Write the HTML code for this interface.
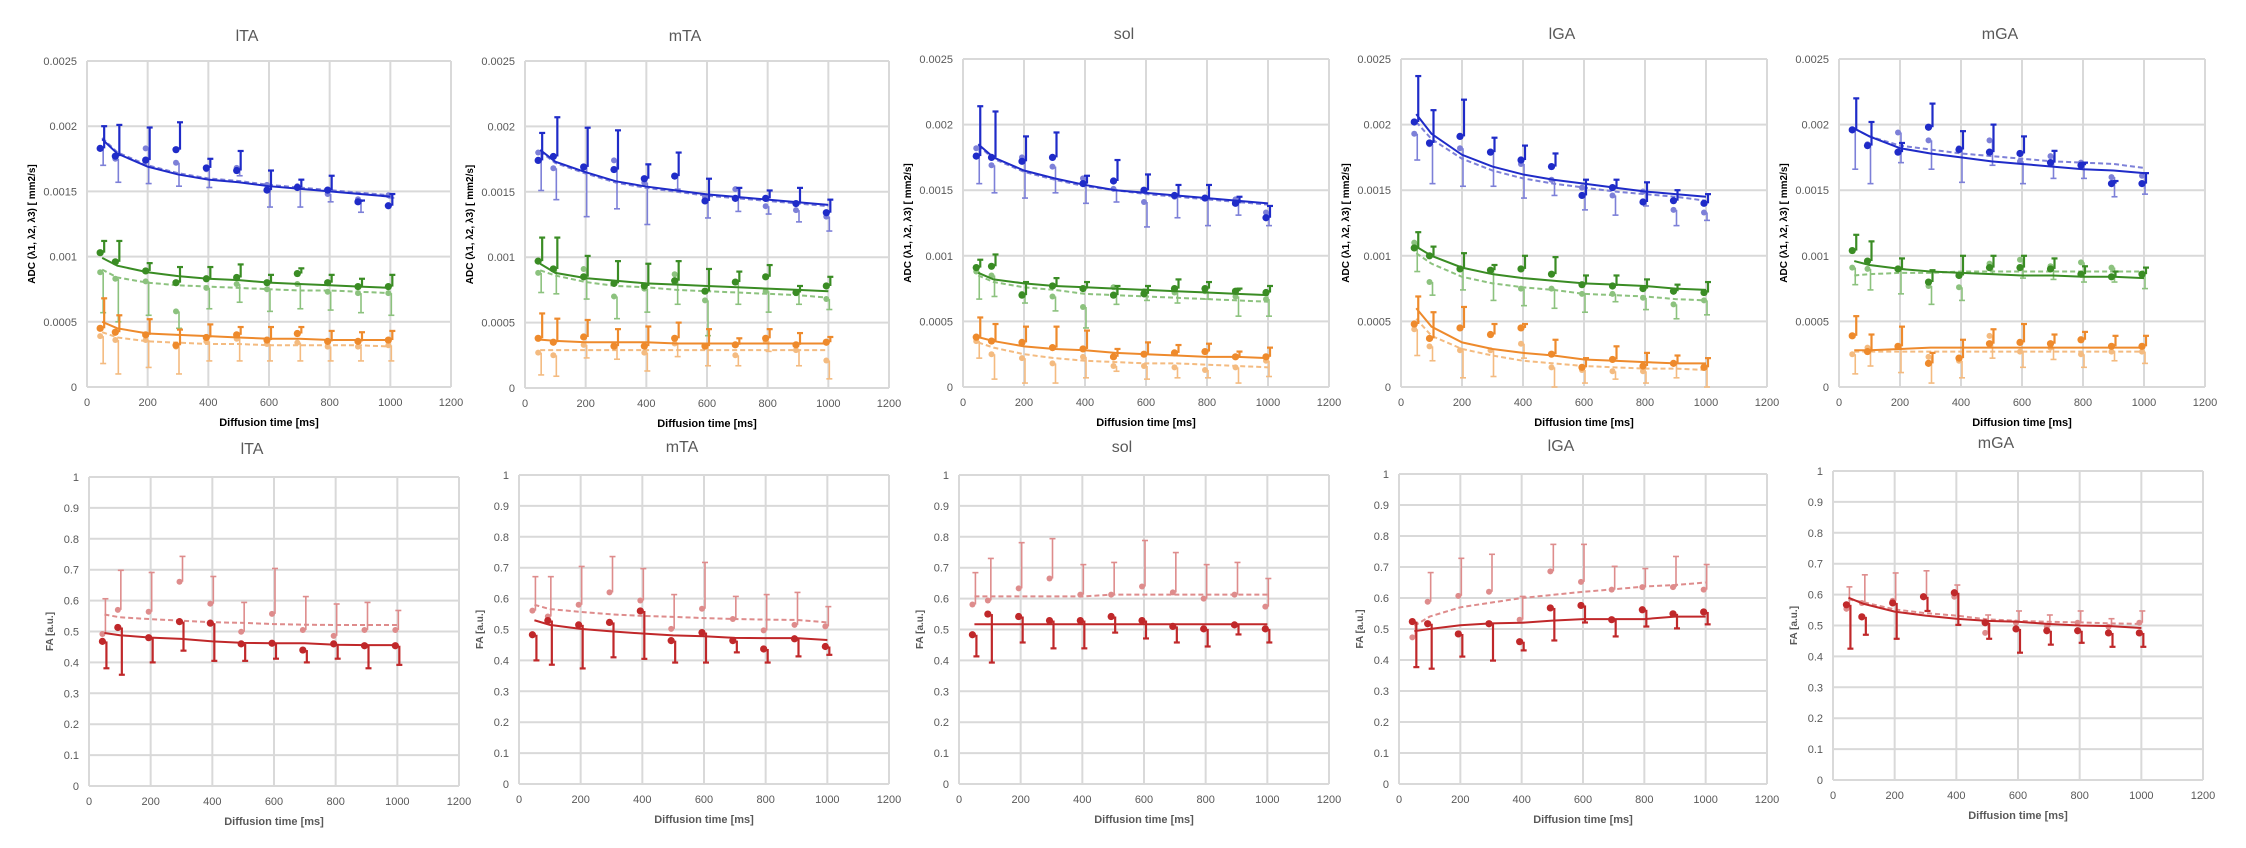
<!DOCTYPE html>
<html><head><meta charset="utf-8">
<style>
html,body{margin:0;padding:0;background:#fff;}
svg{display:block;font-family:"Liberation Sans",sans-serif;}
</style></head>
<body>
<svg id="fig" width="2246" height="848" viewBox="0 0 2246 848" xmlns="http://www.w3.org/2000/svg"></svg>
<script>
const X = [50,100,200,300,400,500,600,700,800,900,1000];
const xTicks = [0,200,400,600,800,1000,1200];
const adcTickLabels = ["0","0.0005","0.001","0.0015","0.002","0.0025"];
const faTickLabels = ["0","0.1","0.2","0.3","0.4","0.5","0.6","0.7","0.8","0.9","1"];
const muscles = ["lTA","mTA","sol","lGA","mGA"];

// ---- ADC lTA ----
const lTA_b_mean=[0.00183,0.00177,0.00174,0.00182,0.00168,0.00166,0.00151,0.00153,0.00151,0.00142,0.00139];
const lTA_b_up=[0.0020,0.00201,0.00199,0.00203,0.00175,0.00181,0.00166,0.00159,0.00162,0.00143,0.00148];
const lTA_b_fit=[0.0019,0.00179,0.00169,0.00163,0.00159,0.00157,0.00154,0.00152,0.0015,0.00148,0.00146];
const lTA_bl_mean=[0.00183,0.00175,0.00183,0.00172,0.00167,0.00168,0.00155,0.00154,0.00148,0.00144,0.00147];
const lTA_bl_lo=[0.0017,0.00157,0.00156,0.00154,0.00153,0.00162,0.00138,0.00138,0.00142,0.00134,0.00145];
const lTA_bl_fit=[0.00191,0.0018,0.0017,0.00164,0.0016,0.00158,0.00155,0.00153,0.00151,0.00149,0.00147];
const lTA_g_mean=[0.00103,0.00096,0.00089,0.0008,0.00083,0.00084,0.0008,0.00087,0.0008,0.00077,0.00077];
const lTA_g_up=[0.00112,0.00112,0.00095,0.00092,0.00092,0.00094,0.00086,0.00091,0.00086,0.00083,0.00086];
const lTA_g_fit=[0.00099,0.00093,0.00088,0.00085,0.00083,0.00082,0.0008,0.00079,0.00078,0.00077,0.00076];
const lTA_gl_mean=[0.00088,0.00083,0.00081,0.00058,0.00076,0.00079,0.00075,0.00079,0.00073,0.00072,0.00072];
const lTA_gl_lo=[0.00057,0.0005,0.00055,0.00045,0.0006,0.00065,0.00058,0.0006,0.00059,0.00057,0.00055];
const lTA_gl_fit=[0.0009,0.00084,0.0008,0.00078,0.00077,0.00076,0.00075,0.00074,0.00074,0.00073,0.00072];
const lTA_o_mean=[0.00045,0.00042,0.0004,0.00032,0.00038,0.0004,0.00036,0.00041,0.00035,0.00035,0.00036];
const lTA_o_up=[0.00068,0.00055,0.00052,0.00044,0.00048,0.00046,0.00046,0.00046,0.00043,0.00042,0.00043];
const lTA_o_fit=[0.0005,0.00045,0.00041,0.0004,0.00039,0.00038,0.00037,0.00037,0.00036,0.00036,0.00036];
const lTA_ol_mean=[0.00039,0.00036,0.00036,0.00031,0.00035,0.00037,0.00033,0.00034,0.00031,0.00031,0.00032];
const lTA_ol_lo=[0.00018,0.0001,0.00015,0.0001,0.0002,0.0002,0.0002,0.0002,0.0002,0.0002,0.0002];
const lTA_ol_fit=[0.00042,0.00038,0.00035,0.00034,0.00033,0.00033,0.00032,0.00032,0.00032,0.00032,0.00031];
// ---- ADC mTA ----
const mTA_b_mean=[0.00174,0.00177,0.00169,0.00167,0.0016,0.00162,0.00143,0.00145,0.00145,0.00141,0.00134];
const mTA_b_up=[0.00195,0.00207,0.00199,0.00197,0.00171,0.0018,0.0016,0.00153,0.00151,0.00153,0.00144];
const mTA_b_fit=[0.00182,0.00173,0.00165,0.00158,0.00154,0.00151,0.00148,0.00146,0.00144,0.00142,0.0014];
const mTA_bl_mean=[0.0018,0.00168,0.00169,0.00174,0.00157,0.00162,0.00146,0.00152,0.00139,0.00136,0.00131];
const mTA_bl_lo=[0.00151,0.00144,0.00131,0.00137,0.00125,0.00152,0.0013,0.00135,0.00133,0.00127,0.0012];
const mTA_bl_fit=[0.00181,0.00172,0.00164,0.00157,0.00153,0.0015,0.00147,0.00145,0.00143,0.00141,0.00139];
const mTA_g_mean=[0.00097,0.00091,0.00085,0.0008,0.00078,0.00082,0.00074,0.00081,0.00085,0.00073,0.00078];
const mTA_g_up=[0.00115,0.00115,0.00101,0.00097,0.00095,0.00097,0.00091,0.00089,0.00094,0.00078,0.00085];
const mTA_g_fit=[0.00095,0.00088,0.00084,0.00082,0.0008,0.00079,0.00078,0.00077,0.00076,0.00075,0.00074];
const mTA_gl_mean=[0.00088,0.00091,0.00091,0.0007,0.00076,0.00087,0.00067,0.00081,0.00074,0.00073,0.00068];
const mTA_gl_lo=[0.00073,0.00072,0.00068,0.00053,0.00058,0.00064,0.0004,0.00064,0.00058,0.00064,0.0006];
const mTA_gl_fit=[0.0009,0.00086,0.00081,0.00078,0.00077,0.00075,0.00074,0.00073,0.00072,0.00071,0.00069];
const mTA_o_mean=[0.00038,0.00035,0.00039,0.00032,0.00032,0.00038,0.00032,0.00033,0.00038,0.00033,0.00035];
const mTA_o_up=[0.00057,0.00053,0.00052,0.00045,0.00047,0.0005,0.00045,0.00038,0.00045,0.00042,0.00039];
const mTA_o_fit=[0.00037,0.00036,0.00035,0.00035,0.00035,0.00034,0.00034,0.00034,0.00034,0.00034,0.00034];
const mTA_ol_mean=[0.00027,0.00025,0.00033,0.00033,0.00027,0.00034,0.00032,0.00025,0.00036,0.00029,0.00021];
const mTA_ol_lo=[0.0001,0.00009,0.00023,0.00022,0.00013,0.00024,0.00017,0.00017,0.00028,0.00017,0.00007];
const mTA_ol_fit=[0.00029,0.00029,0.00029,0.00029,0.00029,0.00029,0.00029,0.00029,0.00029,0.00029,0.00029];
// ---- ADC sol ----
const sol_b_mean=[0.00176,0.00175,0.00172,0.00175,0.00155,0.00157,0.0015,0.00146,0.00144,0.0014,0.00129];
const sol_b_up=[0.00214,0.0021,0.00191,0.00194,0.00161,0.00173,0.00162,0.00154,0.00154,0.00145,0.00138];
const sol_b_fit=[0.00185,0.00175,0.00165,0.00159,0.00154,0.0015,0.00148,0.00146,0.00144,0.00142,0.0014];
const sol_bl_mean=[0.00182,0.00169,0.00175,0.00168,0.00159,0.00151,0.00141,0.00145,0.00144,0.00143,0.00133];
const sol_bl_lo=[0.00155,0.00148,0.00144,0.00148,0.0014,0.00141,0.00122,0.00129,0.00123,0.00131,0.00123];
const sol_bl_fit=[0.00184,0.00174,0.00164,0.00158,0.00153,0.0015,0.00147,0.00145,0.00143,0.00141,0.00139];
const sol_g_mean=[0.00091,0.00092,0.0007,0.00077,0.00075,0.0007,0.00071,0.00075,0.00075,0.00073,0.00072];
const sol_g_up=[0.00097,0.00101,0.0008,0.00083,0.0008,0.00077,0.00077,0.00082,0.0008,0.00075,0.00077];
const sol_g_fit=[0.00087,0.00082,0.00079,0.00077,0.00076,0.00075,0.00074,0.00073,0.00072,0.00071,0.0007];
const sol_gl_mean=[0.00088,0.00085,0.00071,0.00069,0.00061,0.00076,0.00073,0.00072,0.00073,0.00069,0.00067];
const sol_gl_lo=[0.00067,0.00069,0.00064,0.00058,0.00045,0.00063,0.00066,0.00064,0.00067,0.00054,0.00054];
const sol_gl_fit=[0.00085,0.0008,0.00076,0.00074,0.00071,0.0007,0.00069,0.00068,0.00067,0.00066,0.00065];
const sol_o_mean=[0.00038,0.00035,0.00034,0.0003,0.00029,0.00023,0.00025,0.00026,0.00027,0.00023,0.00023];
const sol_o_up=[0.00053,0.00048,0.00046,0.00046,0.00043,0.00029,0.00034,0.00032,0.00033,0.00027,0.0003];
const sol_o_fit=[0.00038,0.00035,0.00031,0.00029,0.00028,0.00026,0.00025,0.00024,0.00023,0.00023,0.00022];
const sol_ol_mean=[0.00035,0.00025,0.00022,0.00018,0.00023,0.00016,0.00016,0.00015,0.00013,0.00015,0.0002];
const sol_ol_lo=[0.00022,0.00006,0.00003,0.00003,0.00007,0.00012,0.00006,0.00007,0.00007,0.00003,0.00008];
const sol_ol_fit=[0.00034,0.0003,0.00025,0.00022,0.0002,0.00019,0.00018,0.00018,0.00017,0.00016,0.00015];
// ---- ADC lGA ----
const lGA_b_mean=[0.00202,0.00186,0.00191,0.00179,0.00173,0.00168,0.00146,0.00152,0.00141,0.00142,0.0014];
const lGA_b_up=[0.00237,0.00211,0.00219,0.0019,0.00184,0.00178,0.00158,0.00158,0.00156,0.0015,0.00147];
const lGA_b_fit=[0.00208,0.00193,0.00177,0.00168,0.00162,0.00158,0.00155,0.00152,0.00149,0.00147,0.00145];
const lGA_bl_mean=[0.00193,0.00185,0.00182,0.00179,0.0017,0.00158,0.00152,0.00146,0.00149,0.00135,0.00133];
const lGA_bl_lo=[0.00173,0.00155,0.00153,0.00153,0.00144,0.00146,0.00135,0.00131,0.00138,0.00123,0.00127];
const lGA_bl_fit=[0.00202,0.00189,0.00174,0.00165,0.00159,0.00155,0.00152,0.00149,0.00147,0.00145,0.00142];
const lGA_g_mean=[0.00106,0.001,0.0009,0.00089,0.0009,0.00086,0.00078,0.00077,0.00075,0.00073,0.00072];
const lGA_g_up=[0.00118,0.00107,0.00102,0.00093,0.001,0.00099,0.00085,0.00085,0.00082,0.00078,0.0008];
const lGA_g_fit=[0.00107,0.001,0.00091,0.00086,0.00083,0.00081,0.00079,0.00078,0.00077,0.00075,0.00074];
const lGA_gl_mean=[0.0011,0.0008,0.0009,0.00089,0.00075,0.00075,0.00071,0.00071,0.00068,0.00063,0.00066];
const lGA_gl_lo=[0.00088,0.0007,0.00074,0.00066,0.00062,0.0006,0.00057,0.00065,0.00059,0.00052,0.00055];
const lGA_gl_fit=[0.00102,0.00094,0.00084,0.00079,0.00076,0.00074,0.00071,0.0007,0.00069,0.00067,0.00066];
const lGA_o_mean=[0.00048,0.00037,0.00045,0.0004,0.00045,0.00025,0.00015,0.00021,0.00016,0.00018,0.00015];
const lGA_o_up=[0.00069,0.00057,0.00061,0.00048,0.00048,0.00036,0.00022,0.00031,0.00026,0.00024,0.00022];
const lGA_o_fit=[0.0006,0.00046,0.00034,0.00029,0.00026,0.00024,0.00021,0.0002,0.00019,0.00018,0.00018];
const lGA_ol_mean=[0.00044,0.00031,0.00028,0.00028,0.00033,0.00015,0.00013,0.00012,0.00012,0.00018,0.00015];
const lGA_ol_lo=[0.00024,0.0002,0.00007,0.00008,0.00022,0.0,0.00003,0.00006,0.00003,0.00007,0.0];
const lGA_ol_fit=[0.00052,0.00039,0.00029,0.00024,0.0002,0.00018,0.00016,0.00015,0.00014,0.00014,0.00013];
// ---- ADC mGA ----
const mGA_b_mean=[0.00196,0.00184,0.00179,0.00198,0.00181,0.00179,0.00178,0.00171,0.00169,0.00155,0.00155];
const mGA_b_up=[0.0022,0.00202,0.00186,0.00216,0.00195,0.002,0.00191,0.0018,0.00171,0.00157,0.00163];
const mGA_b_fit=[0.00197,0.00191,0.00182,0.00178,0.00175,0.00172,0.0017,0.00168,0.00166,0.00165,0.00163];
const mGA_bl_mean=[0.00196,0.00185,0.00194,0.00188,0.00182,0.00188,0.00172,0.00176,0.00171,0.0016,0.00161];
const mGA_bl_lo=[0.00166,0.00155,0.00171,0.00166,0.00156,0.00169,0.00155,0.00159,0.00159,0.00145,0.00147];
const mGA_bl_fit=[0.00197,0.00191,0.00184,0.00181,0.00178,0.00176,0.00174,0.00172,0.00171,0.0017,0.00167];
const mGA_g_mean=[0.00104,0.00096,0.0009,0.0008,0.00085,0.00091,0.00091,0.0009,0.00086,0.00084,0.00086];
const mGA_g_up=[0.00116,0.00111,0.00098,0.00089,0.001,0.001,0.001,0.00098,0.00092,0.00088,0.00091];
const mGA_g_fit=[0.00096,0.00093,0.0009,0.00088,0.00087,0.00086,0.00085,0.00085,0.00084,0.00084,0.00083];
const mGA_gl_mean=[0.00091,0.0009,0.0009,0.00077,0.00076,0.00094,0.00097,0.00092,0.00095,0.00091,0.00086];
const mGA_gl_lo=[0.00078,0.00074,0.00071,0.00063,0.00066,0.00086,0.00083,0.00082,0.0008,0.0008,0.00075];
const mGA_gl_fit=[0.00085,0.00086,0.00087,0.00087,0.00088,0.00088,0.00088,0.00088,0.00088,0.00088,0.00088];
const mGA_o_mean=[0.00039,0.00027,0.00031,0.00018,0.00022,0.00033,0.00034,0.00033,0.00036,0.00031,0.00031];
const mGA_o_up=[0.00054,0.0004,0.00046,0.00026,0.00036,0.00044,0.00048,0.0004,0.00042,0.00039,0.00039];
const mGA_o_fit=[0.00028,0.00028,0.00029,0.0003,0.0003,0.0003,0.0003,0.0003,0.0003,0.0003,0.0003];
const mGA_ol_mean=[0.00025,0.0003,0.00031,0.00023,0.0002,0.00039,0.00027,0.0003,0.00025,0.00027,0.00027];
const mGA_ol_lo=[0.0001,0.00016,0.00011,0.00003,0.00007,0.00022,0.00015,0.00021,0.00015,0.0002,0.00018];
const mGA_ol_fit=[0.00027,0.00027,0.00027,0.00027,0.00027,0.00027,0.00027,0.00027,0.00027,0.00027,0.00027];
// ---- FA ----
const faLTA_mean=[0.468,0.513,0.48,0.532,0.527,0.46,0.462,0.44,0.46,0.454,0.454];
const faLTA_lo=[0.381,0.36,0.4,0.438,0.405,0.405,0.412,0.4,0.412,0.381,0.392];
const faLTA_fit=[0.495,0.488,0.48,0.476,0.468,0.463,0.462,0.462,0.457,0.456,0.456];
const faLTA2_mean=[0.492,0.57,0.564,0.661,0.59,0.499,0.557,0.505,0.486,0.505,0.505];
const faLTA2_up=[0.606,0.698,0.691,0.743,0.678,0.594,0.704,0.613,0.589,0.594,0.568];
const faLTA2_fit=[0.555,0.546,0.54,0.535,0.53,0.528,0.524,0.522,0.521,0.521,0.521];
const faMTA_mean=[0.483,0.529,0.515,0.523,0.56,0.464,0.49,0.464,0.437,0.47,0.445];
const faMTA_lo=[0.4,0.386,0.374,0.41,0.405,0.393,0.393,0.426,0.393,0.413,0.418];
const faMTA_fit=[0.53,0.515,0.502,0.494,0.487,0.481,0.478,0.473,0.472,0.472,0.466];
const faMTA2_mean=[0.561,0.542,0.58,0.62,0.594,0.502,0.567,0.534,0.497,0.515,0.51];
const faMTA2_up=[0.671,0.671,0.704,0.736,0.697,0.613,0.717,0.607,0.613,0.62,0.574];
const faMTA2_fit=[0.58,0.566,0.557,0.549,0.544,0.541,0.537,0.534,0.532,0.531,0.523];
const faSOL_mean=[0.483,0.55,0.542,0.529,0.529,0.542,0.529,0.51,0.502,0.515,0.502];
const faSOL_lo=[0.413,0.393,0.458,0.439,0.439,0.49,0.471,0.458,0.445,0.484,0.458];
const faSOL_fit=[0.517,0.517,0.517,0.517,0.517,0.517,0.517,0.517,0.517,0.517,0.517];
const faSOL2_mean=[0.581,0.594,0.633,0.665,0.613,0.613,0.639,0.62,0.6,0.613,0.574];
const faSOL2_up=[0.684,0.73,0.781,0.794,0.71,0.717,0.788,0.749,0.71,0.717,0.665];
const faSOL2_fit=[0.607,0.607,0.607,0.607,0.607,0.613,0.613,0.613,0.613,0.613,0.613];
const faLGA_mean=[0.524,0.517,0.484,0.517,0.459,0.568,0.576,0.53,0.562,0.549,0.555];
const faLGA_lo=[0.377,0.372,0.411,0.398,0.431,0.463,0.521,0.476,0.508,0.502,0.515];
const faLGA_fit=[0.493,0.5,0.512,0.518,0.52,0.527,0.532,0.532,0.532,0.54,0.54];
const faLGA2_mean=[0.473,0.588,0.607,0.62,0.53,0.686,0.652,0.627,0.635,0.635,0.627];
const faLGA2_up=[0.519,0.682,0.728,0.741,0.605,0.773,0.773,0.702,0.695,0.734,0.708];
const faLGA2_fit=[0.51,0.54,0.57,0.585,0.6,0.61,0.62,0.628,0.637,0.642,0.65];
const faMGA_mean=[0.567,0.528,0.573,0.593,0.606,0.509,0.489,0.483,0.483,0.476,0.476];
const faMGA_lo=[0.425,0.47,0.457,0.547,0.502,0.457,0.412,0.438,0.444,0.431,0.431];
const faMGA_fit=[0.59,0.57,0.545,0.532,0.522,0.515,0.512,0.505,0.5,0.498,0.492];
const faMGA2_mean=[0.554,0.573,0.58,0.593,0.593,0.476,0.509,0.496,0.509,0.496,0.509];
const faMGA2_up=[0.625,0.664,0.67,0.677,0.631,0.534,0.547,0.534,0.547,0.522,0.547];
const faMGA2_fit=[0.585,0.575,0.552,0.54,0.532,0.52,0.515,0.512,0.51,0.507,0.505];

const NS="http://www.w3.org/2000/svg";
const svg=document.getElementById('fig');
function mk(tag,attrs,parent){const e=document.createElementNS(NS,tag);for(const k in attrs)e.setAttribute(k,attrs[k]);(parent||svg).appendChild(e);return e;}

const C={b:"#1f2bc8",bl:"#7d80d8",g:"#3a8c24",gl:"#8cc27e",o:"#ee8a2c",ol:"#f4bb80",r:"#c0282a",rl:"#de8c8c"};

function panel(name,geom,yMax,nTicks,tickLabels,yTitle,titleBold,seriesList,idx,row){
  const [L,R,T,B]=geom;
  const g=mk('g',{});
  
  
  const sx=v=>L+(v/1200)*(R-L);
  const sy=v=>B-(v/yMax)*(B-T);
  for(let i=0;i<nTicks;i++){
    const v=yMax*i/(nTicks-1);const y=sy(v);
    const ln=mk('line',{x1:L,x2:R,y1:y,y2:y,stroke:"#d9d9d9","stroke-width":2},g);
    
    
    const t=mk('text',{x:L-10,y:y+4,"text-anchor":"end","font-size":11,fill:"#595959"},g);
    t.textContent=tickLabels[i];
    
    
  }
  xTicks.forEach(v=>{
    const x=sx(v);
    const ln=mk('line',{x1:x,x2:x,y1:T,y2:B,stroke:"#d9d9d9","stroke-width":2},g);
    
    
    const t=mk('text',{x:x,y:B+19,"text-anchor":"middle","font-size":11,fill:"#595959"},g);
    t.textContent=String(v);
    
    
  });
  const tt=mk('text',{x:(L+R)/2-22,y:T-(row==='adc'?20:23),"text-anchor":"middle","font-size":16,fill:"#595959"},g);
  tt.textContent=name;
  
  
  const xt=mk('text',{x:(L+R)/2,y:B+39,"text-anchor":"middle","font-size":11,"font-weight":"bold",fill:titleBold},g);
  xt.textContent="Diffusion time [ms]";
  
  
  const yx=row==='adc'?L-52:L-36;
  const yt=mk('text',{x:yx,y:(T+B)/2,"text-anchor":"middle","font-size":10,"font-weight":"bold",fill:titleBold,transform:`rotate(-90 ${yx} ${(T+B)/2})`},g);
  yt.textContent=yTitle;
  
  
  seriesList.forEach(s=>{
    const pts=s.fit.map((v,i)=>`${sx(X[i])},${sy(v)}`).join(' ');
    const fl=mk('polyline',{points:pts,fill:"none",stroke:s.color,"stroke-width":2,"stroke-dasharray":s.light?"5,3":"none"},g);
    
    
    s.mean.forEach((v,i)=>{
      const x=sx(X[i]);const ex=x+(s.light?1:2);
      const e=s.err[i];
      const el=mk('line',{x1:ex,x2:ex,y1:sy(v),y2:sy(e),stroke:s.color,"stroke-width":s.light?1.6:2.2},g);
      
      
      const cap=mk('line',{x1:ex-3,x2:ex+3,y1:sy(e),y2:sy(e),stroke:s.color,"stroke-width":s.light?1.6:2.2},g);
      
      
      const c=mk('circle',{cx:x-2,cy:sy(v),r:s.light?3:3.6,fill:s.color},g);
      
      
    });
  });
}

const topGeom=[[87,451,61,387],[525,889,61,388],[963,1329,59,387],[1401,1767,59,387],[1839,2205,59,387]];
const botGeom=[[89,459,477,786],[519,889,475,784],[959,1329,475,784],[1399,1767,474,784],[1833,2203,471,780]];
const adcSets={
 lTA:[[lTA_bl_mean,lTA_bl_lo,lTA_bl_fit],[lTA_b_mean,lTA_b_up,lTA_b_fit],[lTA_gl_mean,lTA_gl_lo,lTA_gl_fit],[lTA_g_mean,lTA_g_up,lTA_g_fit],[lTA_ol_mean,lTA_ol_lo,lTA_ol_fit],[lTA_o_mean,lTA_o_up,lTA_o_fit]],
 mTA:[[mTA_bl_mean,mTA_bl_lo,mTA_bl_fit],[mTA_b_mean,mTA_b_up,mTA_b_fit],[mTA_gl_mean,mTA_gl_lo,mTA_gl_fit],[mTA_g_mean,mTA_g_up,mTA_g_fit],[mTA_ol_mean,mTA_ol_lo,mTA_ol_fit],[mTA_o_mean,mTA_o_up,mTA_o_fit]],
 sol:[[sol_bl_mean,sol_bl_lo,sol_bl_fit],[sol_b_mean,sol_b_up,sol_b_fit],[sol_gl_mean,sol_gl_lo,sol_gl_fit],[sol_g_mean,sol_g_up,sol_g_fit],[sol_ol_mean,sol_ol_lo,sol_ol_fit],[sol_o_mean,sol_o_up,sol_o_fit]],
 lGA:[[lGA_bl_mean,lGA_bl_lo,lGA_bl_fit],[lGA_b_mean,lGA_b_up,lGA_b_fit],[lGA_gl_mean,lGA_gl_lo,lGA_gl_fit],[lGA_g_mean,lGA_g_up,lGA_g_fit],[lGA_ol_mean,lGA_ol_lo,lGA_ol_fit],[lGA_o_mean,lGA_o_up,lGA_o_fit]],
 mGA:[[mGA_bl_mean,mGA_bl_lo,mGA_bl_fit],[mGA_b_mean,mGA_b_up,mGA_b_fit],[mGA_gl_mean,mGA_gl_lo,mGA_gl_fit],[mGA_g_mean,mGA_g_up,mGA_g_fit],[mGA_ol_mean,mGA_ol_lo,mGA_ol_fit],[mGA_o_mean,mGA_o_up,mGA_o_fit]]
};
const adcMeta=[["lambda1-light","bl",true],["lambda1","b",false],["lambda2-light","gl",true],["lambda2","g",false],["lambda3-light","ol",true],["lambda3","o",false]];
const faSets={
 lTA:[[faLTA2_mean,faLTA2_up,faLTA2_fit],[faLTA_mean,faLTA_lo,faLTA_fit]],
 mTA:[[faMTA2_mean,faMTA2_up,faMTA2_fit],[faMTA_mean,faMTA_lo,faMTA_fit]],
 sol:[[faSOL2_mean,faSOL2_up,faSOL2_fit],[faSOL_mean,faSOL_lo,faSOL_fit]],
 lGA:[[faLGA2_mean,faLGA2_up,faLGA2_fit],[faLGA_mean,faLGA_lo,faLGA_fit]],
 mGA:[[faMGA2_mean,faMGA2_up,faMGA2_fit],[faMGA_mean,faMGA_lo,faMGA_fit]]
};
muscles.forEach((m,i)=>{
  const s=adcSets[m].map((a,j)=>({id:adcMeta[j][0],color:C[adcMeta[j][1]],light:adcMeta[j][2],mean:a[0],err:a[1],fit:a[2]}));
  panel(m,topGeom[i],0.0025,6,adcTickLabels,"ADC (λ1, λ2, λ3) [ mm2/s]","#000",s,i,'adc');
  const f=faSets[m].map((a,j)=>({id:j?'fa':'fa-light',color:j?C.r:C.rl,light:!j,mean:a[0],err:a[1],fit:a[2]}));
  panel(m,botGeom[i],1,11,faTickLabels,"FA [a.u.]","#595959",f,i,'fa');
});
</script>
</body></html>
